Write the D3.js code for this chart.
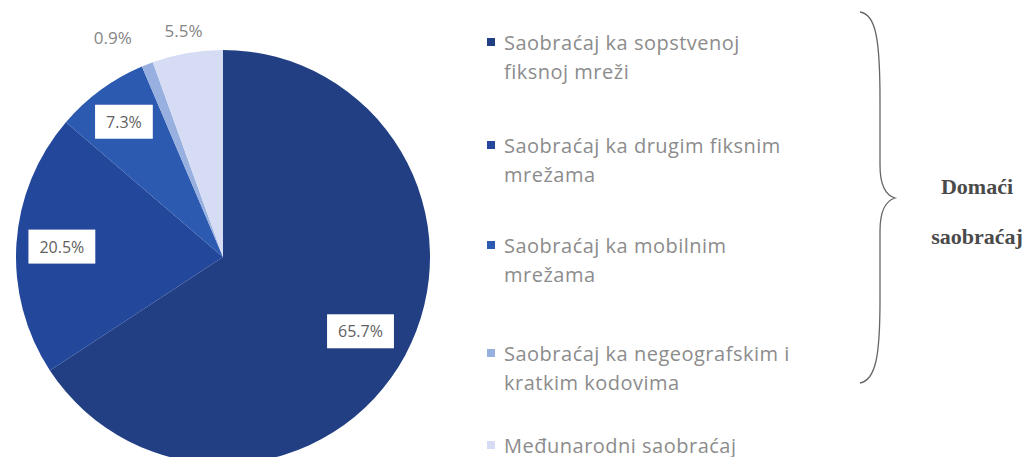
<!DOCTYPE html>
<html><head><meta charset="utf-8">
<script src="https://cdn.jsdelivr.net/npm/d3@7"></script>
<style>html,body{margin:0;padding:0;background:#fff;}svg{display:block;}</style>
</head><body>
<svg id="c" width="1028" height="457"></svg>
<script>
const categories = [
  "Saobraćaj ka sopstvenoj fiksnoj mreži",
  "Saobraćaj ka drugim fiksnim mrežama",
  "Saobraćaj ka mobilnim mrežama",
  "Saobraćaj ka negeografskim i kratkim kodovima",
  "Međunarodni saobraćaj"
];
const legendLines = [
  ["Saobraćaj ka sopstvenoj", "fiksnoj mreži"],
  ["Saobraćaj ka drugim fiksnim", "mrežama"],
  ["Saobraćaj ka mobilnim", "mrežama"],
  ["Saobraćaj ka negeografskim i", "kratkim kodovima"],
  ["Međunarodni saobraćaj"]
];
const values = [65.7, 20.5, 7.3, 0.9, 5.5];
const colors = ["#213f82", "#23479b", "#2b5ab0", "#98b0e0", "#d5dcf4"];
const boxed = [true, true, true, false, false];
const sideLabel = ["Domaći", "saobraćaj"];

const svg = d3.select("#c");
const cx = 223, cy = 257, r = 207;
const color = d3.scaleOrdinal().domain(categories).range(colors);
const pie = d3.pie().sort(null).value(d => d.v);
const data = categories.map((c, i) => ({c, v: values[i], i}));
const arcs = pie(data);
const arc = d3.arc().innerRadius(0).outerRadius(r);
const g = svg.append("g").attr("transform", `translate(${cx},${cy})`);
g.selectAll("path").data(arcs).join("path")
  .attr("d", arc).attr("fill", d => color(d.data.c));

// labels
const labelRadius = [0.755, 0.78, 0.81, 1.18, 1.11];
const labelNudge = [[0, 0], [0, 0], [0, 0], [-21, 8], [0, 0]];
arcs.forEach((d, i) => {
  const la = d3.arc().innerRadius(r * labelRadius[i]).outerRadius(r * labelRadius[i]);
  const [px, py] = la.centroid(d);
  const x = px + labelNudge[i][0], y = py + labelNudge[i][1];
  const t = g.append("text").attr("x", x).attr("y", y)
    .attr("text-anchor", "middle").attr("dominant-baseline", "central")
    .attr("font-family", "Open Sans, sans-serif").attr("font-size", boxed[i] ? 16 : 17)
    .attr("fill", boxed[i] ? "#5f5f5f" : "#858585")
    .text(values[i].toFixed(1) + "%");
  if (boxed[i]) {
    const bb = t.node().getBBox();
    g.insert("rect", "text:last-child")
      .attr("x", bb.x - 11).attr("y", bb.y - 6)
      .attr("width", bb.width + 22).attr("height", bb.height + 12)
      .attr("fill", "#fff");
    t.raise();
  }
});

// legend
const legendY = [42, 145, 245, 353, 445];
const lg = svg.append("g");
categories.forEach((c, i) => {
  const y = legendY[i];
  lg.append("rect").attr("x", 487).attr("y", y - 4).attr("width", 8).attr("height", 8)
    .attr("fill", color(c));
  legendLines[i].forEach((ln, j) => {
    lg.append("text").attr("x", 504).attr("y", y + j * 29)
      .attr("dominant-baseline", "central")
      .attr("font-family", "Open Sans, sans-serif").attr("font-size", 20)
      .attr("letter-spacing", 0.5)
      .attr("fill", "#8c8c8c").text(ln);
  });
});

// brace
const brace = d3.path();
brace.moveTo(860, 12);
brace.bezierCurveTo(876, 14, 880, 40, 880, 100);
brace.lineTo(880, 165);
brace.bezierCurveTo(880, 185, 885, 195, 895, 198);
brace.bezierCurveTo(885, 201, 880, 211, 880, 231);
brace.lineTo(880, 300);
brace.bezierCurveTo(880, 355, 876, 380, 860, 383);
svg.append("path").attr("d", brace.toString()).attr("fill", "none")
  .attr("stroke", "#666").attr("stroke-width", 1.3);

svg.selectAll(".side").data(sideLabel).join("text")
  .attr("x", 977).attr("y", (d, i) => 186 + i * 50)
  .attr("text-anchor", "middle").attr("dominant-baseline", "central")
  .attr("font-family", "Liberation Serif, serif").attr("font-weight", "bold")
  .attr("font-size", 22).attr("fill", "#4a4a4a").text(d => d);
</script>
</body></html>
